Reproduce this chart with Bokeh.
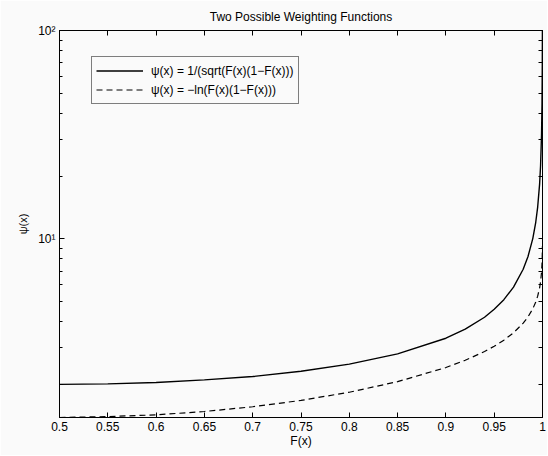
from bokeh.plotting import figure
from bokeh.models import (FixedTicker, LogAxis, LinearAxis, Legend, LegendItem, Range1d)
from bokeh.embed import file_html
from bokeh.resources import INLINE

# Data
F = [0.5, 0.55, 0.6, 0.65, 0.7, 0.75, 0.8, 0.85, 0.9, 0.92, 0.94, 0.95, 0.96,
     0.97, 0.98, 0.985, 0.99, 0.993, 0.995, 0.997, 0.998, 0.999, 0.9995, 0.9998, 0.9999]
psi_sqrt = [2.00, 2.01, 2.04, 2.10, 2.18, 2.31, 2.50, 2.80, 3.33, 3.68, 4.20, 4.59, 5.10,
            5.86, 7.14, 8.22, 10.05, 12.0, 14.2, 18.3, 22.4, 31.6, 44.7, 70.7, 100.0]
psi_log = [1.386, 1.40, 1.427, 1.481, 1.561, 1.674, 1.833, 2.06, 2.408, 2.609, 2.875, 3.047, 3.26,
           3.537, 3.932, 4.215, 4.615, 4.969, 5.303, 5.812, 6.216, 6.909, 7.601, 8.517, 9.21]

x_ticks = [0.5, 0.55, 0.6, 0.65, 0.7, 0.75, 0.8, 0.85, 0.9, 0.95, 1.0]
x_tick_labels = ["0.5", "0.55", "0.6", "0.65", "0.7", "0.75", "0.8", "0.85", "0.9", "0.95", "1"]
y_major = [10, 100]
y_major_labels = ["10\u00b9", "10\u00b2"]
y_minor = [2, 3, 4, 5, 6, 7, 8, 9, 20, 30, 40, 50, 60, 70, 80, 90]

title_text = "Two Possible Weighting Functions"
legend_labels = ["\u03c8(x) = 1/(sqrt(F(x)(1\u2212F(x)))", "\u03c8(x) = \u2212ln(F(x)(1\u2212F(x)))"]

FONT = "Liberation Sans"
BG = "#fafafa"

p = figure(output_backend="svg", toolbar_location=None, y_axis_type="log",
           width=547, height=455,
           x_range=Range1d(0.5, 1.0), y_range=Range1d(1.386, 100),
           min_border_left=59, min_border_top=28, min_border_right=5, min_border_bottom=38,
           background_fill_color=BG, border_fill_color=BG,
           title=title_text)
p.title.align = "center"
p.title.text_font = FONT
p.title.text_font_size = "12px"
p.title.text_font_style = "normal"
p.title.text_color = "black"
p.title.standoff = 14
p.grid.visible = False
p.outline_line_color = "black"
p.outline_line_width = 1

r1 = p.line(F, psi_sqrt, line_color="black", line_width=1.4)
r2 = p.line(F, psi_log, line_color="black", line_width=1.2, line_dash="6 4")

def style_axis(ax):
    ax.axis_line_color = "black"
    ax.axis_line_width = 1
    ax.major_tick_in = 5
    ax.major_tick_out = 0
    ax.minor_tick_in = 3
    ax.minor_tick_out = 0
    ax.major_tick_line_color = "black"
    ax.minor_tick_line_color = "black"
    ax.major_label_text_font = FONT
    ax.major_label_text_font_size = "12px"
    ax.major_label_text_color = "black"

xax = p.xaxis[0]
xax.ticker = FixedTicker(ticks=x_ticks)
xax.major_label_overrides = dict(zip(x_ticks, x_tick_labels))
style_axis(xax)
xax.major_label_standoff = 4
xax.axis_label = "F(x)"
xax.axis_label_standoff = 0
xax.axis_label_text_font = FONT
xax.axis_label_text_font_size = "12px"
xax.axis_label_text_font_style = "normal"
xax.axis_label_text_color = "black"

yax = p.yaxis[0]
yax.ticker = FixedTicker(ticks=y_major, minor_ticks=y_minor)
yax.major_label_overrides = dict(zip(y_major, y_major_labels))
style_axis(yax)
yax.major_label_standoff = 4
yax.axis_label = "\u03c8(x)"
yax.axis_label_standoff = 6
yax.axis_label_text_font = FONT
yax.axis_label_text_font_size = "11px"
yax.axis_label_text_font_style = "normal"
yax.axis_label_text_color = "black"

# Box ticks on top and right (no labels): drawn as minor ticks only
top = LinearAxis(ticker=FixedTicker(ticks=[], minor_ticks=x_ticks))
style_axis(top)
top.minor_tick_in = 5
top.major_label_standoff = 0
p.add_layout(top, "above")
right = LogAxis(ticker=FixedTicker(ticks=[], minor_ticks=y_minor + y_major))
style_axis(right)
right.minor_tick_in = 4
right.major_label_standoff = 0
p.add_layout(right, "right")

legend = Legend(items=[LegendItem(label=legend_labels[0], renderers=[r1]),
                       LegendItem(label=legend_labels[1], renderers=[r2])],
                location=(32, 313))
legend.border_line_color = "black"
legend.border_line_width = 1
legend.background_fill_color = BG
legend.background_fill_alpha = 1
legend.label_text_font = FONT
legend.label_text_font_size = "12px"
legend.label_text_color = "black"
legend.glyph_width = 47
legend.glyph_height = 19
legend.label_height = 19
legend.label_standoff = 8
legend.spacing = 0
legend.padding = 4
legend.margin = 0
p.add_layout(legend, "center")

open("out.html", "w").write(file_html(p, INLINE))
